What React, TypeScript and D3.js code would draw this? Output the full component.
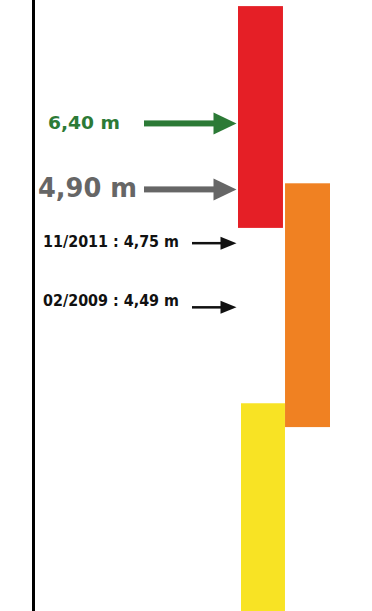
import React from "react";
import * as d3 from "d3";

// Zones (schematic levels, position units 0-100 from top)
const zoneNames = ["rouge", "orange", "jaune"];
const zoneTop = [1.0, 30.0, 66.0];
const zoneBottom = [37.3, 69.9, 100];
const zoneColumn = ["c0", "c1", "c0"];
const zoneColors = ["#E51F26", "#F08122", "#F8E324"];

// Markers
const markerLabels = ["6,40 m", "4,90 m", "11/2011 : 4,75 m", "02/2009 : 4,49 m"];
const markerValues = [6.40, 4.90, 4.75, 4.49];
const markerArrowPos = [20.2, 31.0, 39.8, 50.3];
const markerLabelPos = [20.0, 30.75, 39.55, 49.2];
const markerKind = ["big", "big", "small", "small"];
const markerColors = ["#2C7A36", "#666666", "#111111", "#111111"];

const W = 372;
const H = 611;

export default function App() {
  const y = d3.scaleLinear().domain([0, 100]).range([0, H]);
  const x = d3.scaleBand<string>().domain(["c0", "c1"]).range([238, 330]).paddingInner(0.044).paddingOuter(0);

  const textStyle: Record<string, { x: number; size: number; len: number }> = {
    "6,40 m": { x: 48, size: 18, len: 72 },
    "4,90 m": { x: 38, size: 26, len: 99 },
    "11/2011 : 4,75 m": { x: 43, size: 15, len: 136 },
    "02/2009 : 4,49 m": { x: 43, size: 15, len: 136 },
  };

  return (
    <svg width={W} height={H} style={{ position: "fixed", left: 0, top: 0, background: "#fff" }}>
      <rect x={0} y={0} width={W} height={H} fill="#fff" />
      {zoneNames.map((n, i) => (
        <rect
          key={n}
          x={x(zoneColumn[i])! + (n === "jaune" ? 3 : 0)}
          width={x.bandwidth() - (n === "jaune" ? 1 : 0)}
          y={y(zoneTop[i])}
          height={y(zoneBottom[i]) - y(zoneTop[i])}
          fill={zoneColors[i]}
        />
      ))}
      <line x1={33.5} x2={33.5} y1={0} y2={H} stroke="#000" strokeWidth={3} />
      {markerLabels.map((lab, i) => {
        const ay = y(markerArrowPos[i]);
        const ly = y(markerLabelPos[i]);
        const big = markerKind[i] === "big";
        const x0 = big ? 144 : 192;
        const tip = 236.5;
        const headLen = big ? 23 : 16;
        const headH = big ? 22 : 13;
        const shaft = big ? 6 : 2.5;
        const st = textStyle[lab];
        const head = d3.path();
        head.moveTo(tip - headLen, ay - headH / 2);
        head.lineTo(tip, ay);
        head.lineTo(tip - headLen, ay + headH / 2);
        head.closePath();
        return (
          <g key={lab} data-value={markerValues[i]}>
            <text
              x={st.x}
              y={ly}
              dominantBaseline="central"
              fontFamily="DejaVu Sans, Verdana, sans-serif"
              fontWeight="bold"
              fontSize={st.size}
              fill={markerColors[i]}
              textLength={st.len}
              lengthAdjust="spacingAndGlyphs"
            >
              {lab}
            </text>
            <rect x={x0} y={ay - shaft / 2} width={tip - headLen - x0 + 1} height={shaft} fill={markerColors[i]} />
            <path d={head.toString()} fill={markerColors[i]} />
          </g>
        );
      })}
    </svg>
  );
}
